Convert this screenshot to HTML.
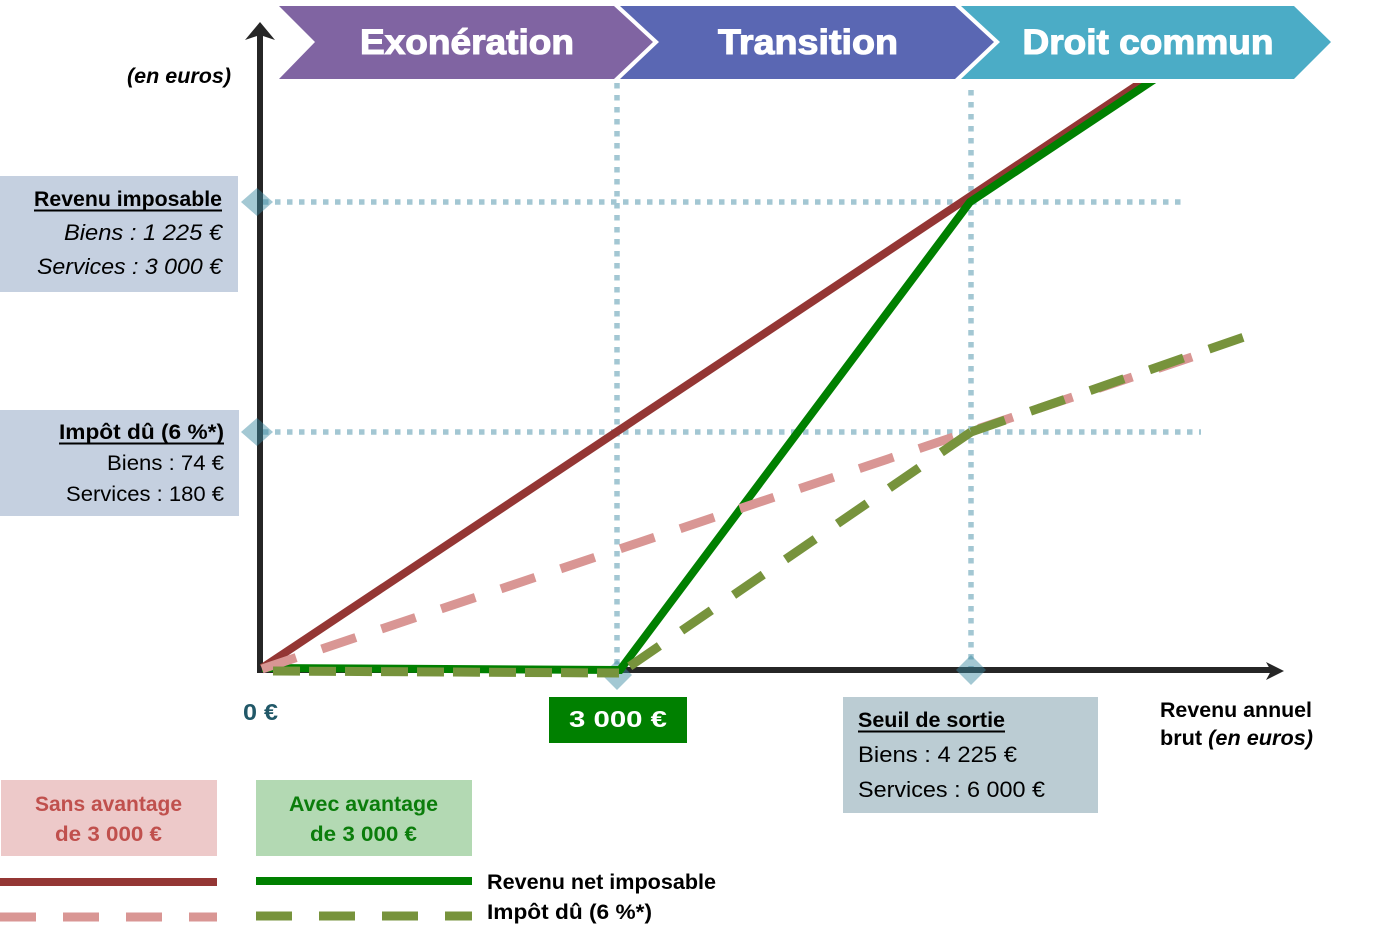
<!DOCTYPE html>
<html>
<head>
<meta charset="utf-8">
<style>
  html,body{margin:0;padding:0;background:#ffffff;}
  svg{display:block;}
  text{font-family:"Liberation Sans", Arial, sans-serif;}
</style>
</head>
<body>
<svg width="1382" height="941" viewBox="0 0 1382 941" xmlns="http://www.w3.org/2000/svg">
  <defs>
    <clipPath id="chartClip">
      <rect x="0" y="83" width="1382" height="900"/>
    </clipPath>
  </defs>
  <rect x="0" y="0" width="1382" height="941" fill="#ffffff"/>

  <!-- Banner chevrons -->
  <polygon points="279,6 614,6 653,42 614,79 279,79 315,42" fill="#8064A2"/>
  <polygon points="620,6 955,6 994,42 955,79 620,79 659,42" fill="#5A67B3"/>
  <polygon points="961,6 1294,6 1331,42 1294,79 961,79 1000,42" fill="#4BACC6"/>
  <g font-size="35" font-weight="bold" fill="#ffffff" stroke="#ffffff" stroke-width="1.1" text-anchor="middle">
    <text x="467" y="54" textLength="214" lengthAdjust="spacingAndGlyphs">Exonération</text>
    <text x="808" y="54" textLength="180" lengthAdjust="spacingAndGlyphs">Transition</text>
    <text x="1148" y="54" textLength="251" lengthAdjust="spacingAndGlyphs">Droit commun</text>
  </g>

  <!-- (en euros) -->
  <text x="127" y="83" font-size="21" font-weight="bold" font-style="italic" fill="#000" textLength="104" lengthAdjust="spacingAndGlyphs">(en euros)</text>

  <!-- Left boxes -->
  <rect x="0" y="176" width="238" height="116" fill="#C5D0E0"/>
  <text x="222" y="206" text-anchor="end" font-size="21" font-weight="bold" fill="#000" textLength="188" lengthAdjust="spacingAndGlyphs">Revenu imposable</text>
  <line x1="34" y1="210.5" x2="222" y2="210.5" stroke="#000" stroke-width="2"/>
  <text x="222" y="240" text-anchor="end" font-size="22" font-style="italic" fill="#000" textLength="158" lengthAdjust="spacingAndGlyphs">Biens : 1 225 €</text>
  <text x="222" y="274" text-anchor="end" font-size="22" font-style="italic" fill="#000" textLength="185" lengthAdjust="spacingAndGlyphs">Services : 3 000 €</text>

  <rect x="0" y="410" width="239" height="106" fill="#C5D0E0"/>
  <text x="224" y="439" text-anchor="end" font-size="21" font-weight="bold" fill="#000" textLength="165" lengthAdjust="spacingAndGlyphs">Impôt dû (6 %*)</text>
  <line x1="59" y1="443.5" x2="224" y2="443.5" stroke="#000" stroke-width="2"/>
  <text x="224" y="470" text-anchor="end" font-size="21" fill="#000" textLength="117" lengthAdjust="spacingAndGlyphs">Biens : 74 €</text>
  <text x="224" y="501" text-anchor="end" font-size="21" fill="#000" textLength="158" lengthAdjust="spacingAndGlyphs">Services : 180 €</text>

  <!-- Dotted guide lines -->
  <g stroke="#A3C7D3" stroke-width="5.5" stroke-dasharray="5.5 6.5" fill="none">
    <line x1="263" y1="202" x2="1187" y2="202"/>
    <line x1="263" y1="432" x2="1201" y2="432"/>
    <line x1="617" y1="83" x2="617" y2="668"/>
    <line x1="971" y1="90" x2="971" y2="668"/>
  </g>

  <!-- Axes -->
  <line x1="260" y1="32" x2="260" y2="673" stroke="#262626" stroke-width="6"/>
  <polygon points="260,22 245,40 260,35 275,40" fill="#262626"/>
  <line x1="257" y1="670" x2="1272" y2="670" stroke="#262626" stroke-width="6"/>
  <polygon points="1284,671 1266,662 1271,671 1266,680" fill="#262626"/>

  <!-- Diamonds (semi-transparent) -->
  <g fill="rgb(57,137,160)" fill-opacity="0.465">
    <polygon points="257,188 273,202 257,216 241,202"/>
    <polygon points="257,418 273,432 257,446 241,432"/>
    <polygon points="617,660 632,675 617,690 602,675"/>
    <polygon points="971,655 986,670 971,685 956,670"/>
  </g>

  <!-- Data lines -->
  <g clip-path="url(#chartClip)" fill="none">
    <path d="M262,668 L1160,70" stroke="#943634" stroke-width="8"/>
    <path d="M262,668 L620,670 L970,202 L1170,69" stroke="#008000" stroke-width="8" stroke-linejoin="miter"/>
  </g>
  <path d="M262,669 L1192,357" stroke="#D99694" stroke-width="9" stroke-dasharray="36 27" fill="none"/>
  <path d="M273,671 L619,673" stroke="#77933C" stroke-width="9" stroke-dasharray="27 9" fill="none"/>
  <path d="M971,432 L620,673" stroke="#77933C" stroke-width="9" stroke-dasharray="36 27" fill="none"/>
  <path d="M971,432 L1244,337" stroke="#77933C" stroke-width="9" stroke-dasharray="36 27" fill="none"/>

  <!-- X axis labels -->
  <text x="243" y="720" font-size="23.5" font-weight="bold" fill="#215868" textLength="35" lengthAdjust="spacingAndGlyphs">0 €</text>
  <rect x="549" y="697" width="138" height="46" fill="#008000"/>
  <text x="618" y="727" text-anchor="middle" font-size="23.5" font-weight="bold" fill="#ffffff" textLength="98" lengthAdjust="spacingAndGlyphs">3 000 €</text>

  <rect x="843" y="697" width="255" height="116" fill="#BBCCD3"/>
  <text x="858" y="727" font-size="21" font-weight="bold" fill="#000" textLength="147" lengthAdjust="spacingAndGlyphs">Seuil de sortie</text>
  <line x1="858" y1="731.5" x2="1005" y2="731.5" stroke="#000" stroke-width="2"/>
  <text x="858" y="762" font-size="22" fill="#000" textLength="159" lengthAdjust="spacingAndGlyphs">Biens : 4 225 €</text>
  <text x="858" y="797" font-size="22" fill="#000" textLength="187" lengthAdjust="spacingAndGlyphs">Services : 6 000 €</text>

  <text x="1160" y="717" font-size="21" font-weight="bold" fill="#000" textLength="152" lengthAdjust="spacingAndGlyphs">Revenu annuel</text>
  <text x="1160" y="745" font-size="21" font-weight="bold" fill="#000" textLength="153" lengthAdjust="spacingAndGlyphs">brut <tspan font-style="italic">(en euros)</tspan></text>

  <!-- Legend -->
  <rect x="1" y="780" width="216" height="76" fill="#EDC9C9"/>
  <text x="108.5" y="811" text-anchor="middle" font-size="21" font-weight="bold" fill="#C0504D" textLength="147" lengthAdjust="spacingAndGlyphs">Sans avantage</text>
  <text x="108.5" y="841" text-anchor="middle" font-size="21" font-weight="bold" fill="#C0504D" textLength="107" lengthAdjust="spacingAndGlyphs">de 3 000 €</text>

  <rect x="256" y="780" width="216" height="76" fill="#B3D9B3"/>
  <text x="363.5" y="811" text-anchor="middle" font-size="21" font-weight="bold" fill="#0B7D0B" textLength="149" lengthAdjust="spacingAndGlyphs">Avec avantage</text>
  <text x="363.5" y="841" text-anchor="middle" font-size="21" font-weight="bold" fill="#0B7D0B" textLength="107" lengthAdjust="spacingAndGlyphs">de 3 000 €</text>

  <line x1="0" y1="882" x2="217" y2="882" stroke="#943634" stroke-width="8"/>
  <line x1="256" y1="881" x2="472" y2="881" stroke="#008000" stroke-width="8"/>
  <line x1="0" y1="917" x2="217" y2="917" stroke="#D99694" stroke-width="9" stroke-dasharray="36 27"/>
  <line x1="256" y1="916" x2="472" y2="916" stroke="#77933C" stroke-width="9" stroke-dasharray="36 27"/>

  <text x="487" y="889" font-size="21" font-weight="bold" fill="#000" textLength="229" lengthAdjust="spacingAndGlyphs">Revenu net imposable</text>
  <text x="487" y="919" font-size="21" font-weight="bold" fill="#000" textLength="165" lengthAdjust="spacingAndGlyphs">Impôt dû (6 %*)</text>
</svg>
</body>
</html>
